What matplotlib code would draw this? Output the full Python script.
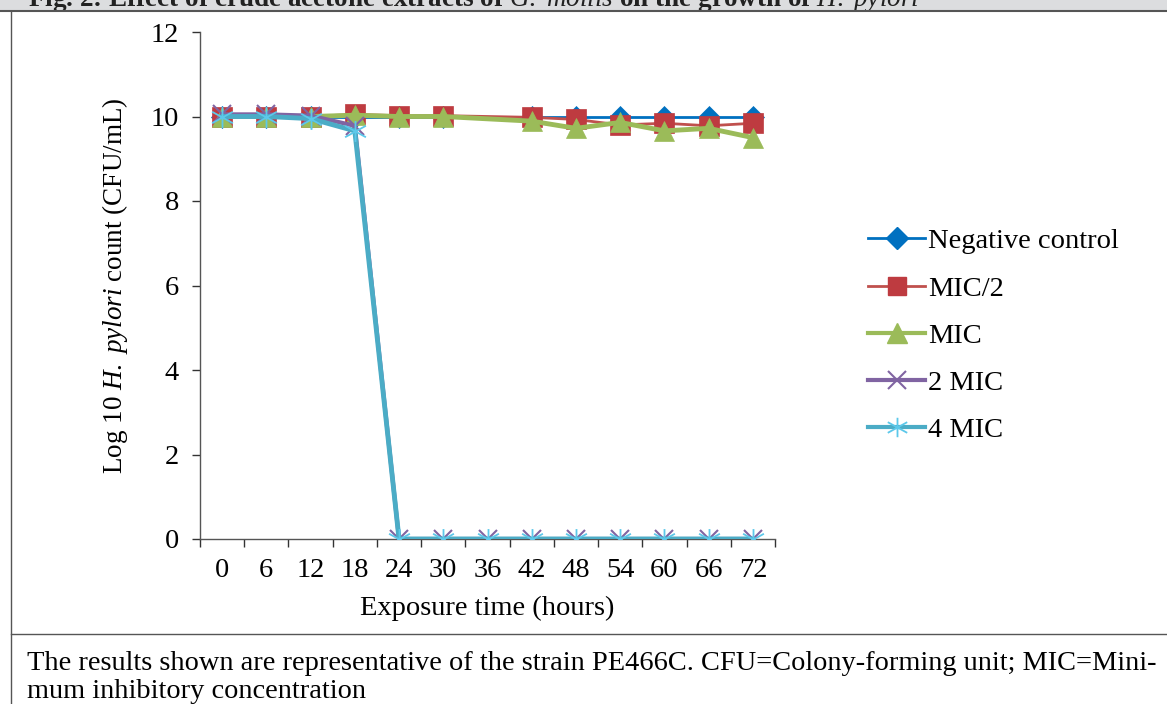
import numpy as np
import matplotlib
matplotlib.use("Agg")
import matplotlib.pyplot as plt
from matplotlib.path import Path
from matplotlib.lines import Line2D
from matplotlib.patches import Rectangle

plt.rcParams['font.family'] = ['Liberation Serif', 'DejaVu Serif']
plt.rcParams['mathtext.fontset'] = 'custom'
plt.rcParams['mathtext.rm'] = 'Liberation Serif'
plt.rcParams['mathtext.it'] = 'Liberation Serif:italic'

# ---- data ----
hours = [0, 6, 12, 18, 24, 30, 36, 42, 48, 54, 60, 66, 72]
neg_control = [10.0, 10.0, 10.0, 10.0, 10.0, 10.0, np.nan, 10.0, 10.0, 10.0, 10.0, 10.0, 10.0]
mic_half = [10.0, 10.0, 10.0, 10.05, 10.02, 10.02, np.nan, 9.98, 9.93, 9.80, 9.84, 9.78, 9.84]
mic = [10.0, 10.0, 10.0, 10.03, 10.0, 10.0, np.nan, 9.89, 9.72, 9.86, 9.66, 9.72, 9.50]
mic_2 = [10.05, 10.05, 10.02, 9.78, 0, 0, 0, 0, 0, 0, 0, 0, 0]
mic_4 = [10.0, 10.0, 9.95, 9.66, 0, 0, 0, 0, 0, 0, 0, 0, 0]
series_names = ["Negative control", "MIC/2", "MIC", "2 MIC", "4 MIC"]
y_ticks = [0, 2, 4, 6, 8, 10, 12]

star = Path([(-1, -0.55), (1, 0.55), (-1, 0.55), (1, -0.55), (0, -1), (0, 1)],
            [Path.MOVETO, Path.LINETO, Path.MOVETO, Path.LINETO, Path.MOVETO, Path.LINETO])

FS = 20.5

fig = plt.figure(figsize=(11.67, 7.04), dpi=100)

# frame decorations
fig.patches.append(Rectangle((0, 1 - 10 / 704), 1, 10 / 704, transform=fig.transFigure,
                             facecolor='#dcdddf', edgecolor='none', zorder=0))
fig.text(28 / 1167, 1 - 6 / 704,
         r"Fig. 2: Effect of crude acetone extracts of $\mathit{G.\ mollis}$ on the growth of $\mathit{H.\ pylori}$",
         fontsize=19.5, fontweight='bold', va='baseline', ha='left', color='#222222', zorder=1)
fig.add_artist(Line2D([0, 1], [1 - 10.5 / 704, 1 - 10.5 / 704], transform=fig.transFigure,
                      color='#555555', lw=1.5, zorder=3))
fig.patches.append(Rectangle((0, 0), 1, 1 - 11 / 704, transform=fig.transFigure,
                             facecolor='white', edgecolor='none', zorder=2))
fig.add_artist(Line2D([10.5 / 1167, 10.5 / 1167], [0, 1 - 10.5 / 704], transform=fig.transFigure,
                      color='#555555', lw=1.0, zorder=3))
fig.add_artist(Line2D([10.5 / 1167, 1], [1 - 634 / 704, 1 - 634 / 704], transform=fig.transFigure,
                      color='#555555', lw=1.0, zorder=3))
fig.text(27 / 1167, 1 - 663 / 704,
         "The results shown are representative of the strain PE466C. CFU=Colony-forming unit; MIC=Mini-",
         fontsize=20.4, va='center', ha='left', zorder=4)
fig.text(27 / 1167, 1 - 691 / 704, "mum inhibitory concentration",
         fontsize=20.4, va='center', ha='left', zorder=4)

ax = fig.add_axes([200 / 1167, 1 - 539 / 704, 575 / 1167, 507 / 704])
ax.set_zorder(5)
ax.patch.set_alpha(0)
x = np.arange(len(hours))

def draw(vals, color, lw, marker, ms, mfc, mec, mew, z):
    v = np.array(vals, dtype=float)
    ok = ~np.isnan(v)
    ax.plot(x[ok], v[ok], color=color, lw=lw, zorder=z, solid_capstyle='round')
    ax.plot(x[ok], v[ok], ls='none', marker=marker, ms=ms, mfc=mfc, mec=mec, mew=mew, zorder=z + 0.5)

draw(neg_control, '#0070c0', 2.0, 'D', 11, '#0070c0', '#0070c0', 0.5, 2)
draw(mic_half, '#c0504d', 2.0, 's', 14, '#be3b40', '#be3b40', 0.5, 3)
draw(mic, '#9bbb59', 3.5, '^', 15, '#9bbb59', '#9bbb59', 0.5, 4)
draw(mic_2, '#8064a2', 3.0, 'x', 13, '#8064a2', '#8064a2', 1.5, 5)
draw(mic_4, '#4bacc6', 3.5, star, 15, '#5cc8ea', '#5cc8ea', 1.3, 6)

ax.set_xlim(-0.5, len(hours) - 0.5)
ax.set_ylim(0, 12)
ax.set_yticks(y_ticks)
ax.set_xticks(x)
ax.set_xticklabels([str(h) for h in hours])
ax.set_xticks(np.arange(-0.5, len(hours)), minor=True)
ax.tick_params(axis='x', which='major', length=0, labelsize=FS, pad=14)
ax.tick_params(axis='x', which='minor', length=6, width=1, direction='out', color='#333333')
ax.tick_params(axis='y', length=6, width=1, direction='out', labelsize=FS, pad=9, color='#333333')
for s in ['top', 'right']:
    ax.spines[s].set_visible(False)
for s in ['left', 'bottom']:
    ax.spines[s].set_color('#555555')
    ax.spines[s].set_linewidth(1.0)

ax.set_xlabel("Exposure time (hours)", fontsize=FS, labelpad=9)
ax.set_ylabel(r"Log 10 $\mathit{H.\ pylori}$ count (CFU/mL)", fontsize=19.5, labelpad=15)

handles = [
    Line2D([], [], color='#0070c0', lw=2.0, marker='D', ms=11, mfc='#0070c0', mec='#0070c0'),
    Line2D([], [], color='#c0504d', lw=2.0, marker='s', ms=13, mfc='#be3b40', mec='#be3b40'),
    Line2D([], [], color='#9bbb59', lw=3.0, marker='^', ms=14, mfc='#9bbb59', mec='#9bbb59'),
    Line2D([], [], color='#8064a2', lw=3.0, marker='x', ms=13, mec='#8064a2', mew=1.5),
    Line2D([], [], color='#4bacc6', lw=3.0, marker=star, ms=14, mec='#5cc8ea', mew=1.3),
]
leg = fig.legend(handles, series_names, loc='upper left', bbox_to_anchor=(857 / 1167, 1 - 217 / 704),
                 frameon=False, fontsize=FS, handlelength=2.0, handletextpad=0.1, labelspacing=0.75,
                 borderaxespad=0)
leg.set_zorder(6)

fig.savefig("out.png", dpi=100)
